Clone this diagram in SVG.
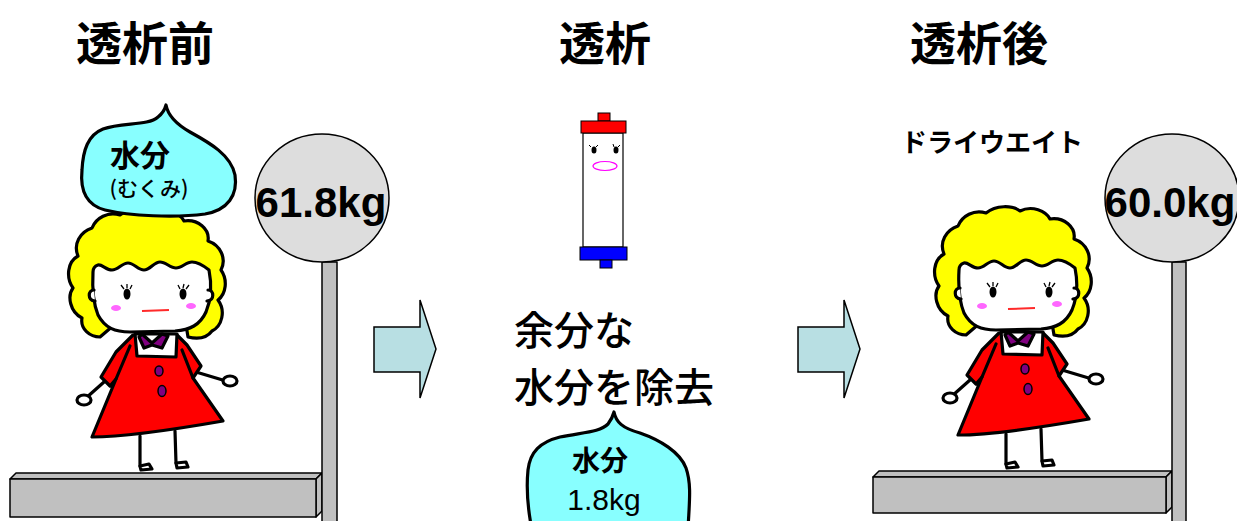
<svg xmlns="http://www.w3.org/2000/svg" xmlns:xlink="http://www.w3.org/1999/xlink" width="1237" height="521" viewBox="0 0 1237 521">
  <style>
    .title { font-family: "Noto Sans CJK JP", "Noto Sans", sans-serif; font-size: 46px; font-weight: 700; fill: #000; }
    .label { font-family: "Noto Sans CJK JP", "Noto Sans", sans-serif; fill: #000; }
    .num { font-family: "Liberation Sans", Arial, sans-serif; fill: #000; }
    .ink { stroke: #000; stroke-width: 3.2; stroke-linejoin: round; stroke-linecap: round; }
    .thin { stroke: #000; stroke-width: 1.5; stroke-linejoin: round; }
    .drop { fill: #88ffff; stroke: #000; stroke-width: 3.2; stroke-linejoin: round; }
    .metal { fill: #c0c0c0; stroke: #000; stroke-width: 1.5; stroke-linejoin: round; }
    .dial { fill: #dddddd; stroke: #000; stroke-width: 1.5; }
    .arrow { fill: #b8dfe3; stroke: #000; stroke-width: 1.5; stroke-linejoin: miter; }
  </style>
  <defs>
    <!-- girl standing on a scale; feet rest at y≈470 -->
    <g id="girl">
      <!-- arms -->
      <path class="ink" fill="none" d="M104,382 L86,398 M196,372 L226,381"/>
      <ellipse class="ink" fill="#fff" cx="84" cy="400" rx="7" ry="5"/>
      <ellipse class="ink" fill="#fff" cx="230" cy="381" rx="7" ry="5"/>
      <!-- legs and feet -->
      <path class="ink" fill="none" d="M140,436 L140,466 M175,431 L176,463"/>
      <path class="ink" fill="#fff" d="M140,466 L149,464 L152,469 L141,470 Z"/>
      <path class="ink" fill="#fff" d="M176,463 L186,462 L188,467 L177,468 Z"/>
      <!-- hair -->
      <path class="ink" fill="#ffff00" d="M100,337 C90,337 80,329 82,318 C70,312 67,296 73,288 C66,278 67,262 78,256 C73,244 80,232 92,228 C96,218 108,211 120,215 C130,207 146,207 154,213 C166,207 180,213 184,221 C198,219 210,229 208,241 C220,245 227,258 221,270 C228,280 226,294 218,300 C226,311 222,326 212,331 C206,339 196,339 188,337 L186,325 L114,325 Z"/>
      <!-- face -->
      <path class="ink" fill="#fff" d="M93,272 C92,290 94,305 98,315 C105,328 115,332 130,332 L175,331 C190,330 200,325 206,312 C211,300 212,285 209,270 C204,266 198,262 192,262 C186,262 182,268 176,268 C170,268 166,262 160,262 C154,262 150,270 144,270 C138,270 134,263 128,263 C122,263 118,270 112,270 C106,270 102,264 98,265 C95,266 93,268 93,272 Z"/>
      <path class="ink" fill="#fff" d="M94,290 C88,290 87,300 95,301 M208,290 C214,290 215,300 207,301"/>
      <!-- eyes, cheeks, mouth -->
      <ellipse cx="127" cy="294" rx="3.5" ry="5.5" fill="#000"/>
      <ellipse cx="183" cy="294" rx="3.5" ry="5.5" fill="#000"/>
      <path stroke="#000" stroke-width="1.3" fill="none" d="M124,289 L121,285 M127,288 L127,284 M130,289 L132,285 M180,289 L178,285 M183,288 L184,284 M186,289 L189,285"/>
      <ellipse cx="116" cy="308" rx="5" ry="3" fill="#ff66ff"/>
      <ellipse cx="191" cy="306" rx="5" ry="3" fill="#ff66ff"/>
      <path d="M142,311 L169,310" stroke="#ff2a2a" stroke-width="2" fill="none"/>
      <!-- dress -->
      <path class="ink" fill="#ff0000" d="M133,335 L116,352 L101,377 L110,386 L116,379 L92,437 C120,437 160,432 223,421 L193,378 L201,366 L187,345 L177,335 Z"/>
      <path class="ink" fill="none" d="M130,346 L116,379 M182,350 L193,378"/>
      <!-- collar and bow -->
      <path class="ink" fill="#fff" d="M135,334 L137,356 L176,357 L177,334 Z"/>
      <path class="ink" fill="#800080" d="M142,334 L152,343 L162,334 L168,336 L162,348 L152,345 L144,348 L139,337 Z"/>
      <!-- buttons -->
      <ellipse class="thin" fill="#800080" cx="159" cy="371" rx="4" ry="5"/>
      <ellipse class="thin" fill="#800080" cx="162" cy="391" rx="4" ry="5.5"/>
    </g>
  </defs>

  <!-- headings -->
  <text class="title" x="76" y="60">透析前</text>
  <text class="title" x="605" y="60" text-anchor="middle">透析</text>
  <text class="title" x="979" y="60" text-anchor="middle">透析後</text>

  <!-- before: scale and girl -->
  <g id="scale-before">
    <path class="metal" d="M10,479 L16,473 L322,473 L316,479 Z"/>
    <path class="metal" d="M316,479 L322,473 L322,511 L316,517 Z"/>
    <rect class="metal" x="10" y="479" width="306" height="38"/>
    <rect class="metal" x="322" y="262" width="15" height="262"/>
    <ellipse class="dial" cx="322" cy="198" rx="67" ry="64"/>
    <text class="num" x="321" y="217" font-size="42" font-weight="bold" text-anchor="middle">61.8kg</text>
  </g>
  <g id="girl-before">
    <use xlink:href="#girl"/>
  </g>
  <g id="water-before">
    <path class="drop" d="M166,105 C168,116 176,124 190,132 C210,143 231,155 235,175 C238,195 228,210 205,214 C175,218 130,216 105,210 C86,205 80,190 82,170 C83,150 88,135 103,129 C122,122 148,126 158,117 C163,113 165,109 166,105 Z"/>
    <text class="label" x="140" y="166" font-size="30" font-weight="bold" text-anchor="middle">水分</text>
    <text class="label" x="149" y="196" font-size="21" font-weight="500" text-anchor="middle">(むくみ)</text>
  </g>

  <!-- connectors between stages -->
  <g id="arrows">
    <path class="arrow" d="M374,327 L420,327 L420,300 L436,349 L420,398 L420,372 L374,372 Z"/>
    <path class="arrow" d="M798,327 L844,327 L844,300 L860,349 L844,398 L844,372 L798,372 Z"/>
  </g>

  <!-- dialyzer -->
  <g id="dialyzer">
    <rect x="583" y="133" width="40" height="114" fill="#fff" stroke="#000" stroke-width="1.2"/>
    <rect x="598" y="113" width="12" height="8" fill="#ff0000" stroke="#000" stroke-width="1"/>
    <rect x="581" y="121" width="45" height="12" fill="#ff0000" stroke="#000" stroke-width="1"/>
    <rect x="580" y="247" width="47" height="13" fill="#0000ff" stroke="#000" stroke-width="1"/>
    <rect x="600" y="260" width="12" height="8" fill="#0000ff" stroke="#000" stroke-width="1"/>
    <ellipse cx="594" cy="150" rx="2.5" ry="3.5" fill="#000"/>
    <ellipse cx="616" cy="150" rx="2.5" ry="3.5" fill="#000"/>
    <path stroke="#000" stroke-width="1" fill="none" d="M591,147 L589,145 M596,147 L598,145 M614,147 L613,144 M618,147 L620,145"/>
    <ellipse cx="605" cy="166" rx="12" ry="4.5" fill="none" stroke="#ff00ff" stroke-width="1.2"/>
  </g>

  <g id="removal-text">
    <text class="label" x="514" y="345" font-size="40" font-weight="500">余分な</text>
    <text class="label" x="514" y="402" font-size="40" font-weight="500">水分を除去</text>
  </g>

  <g id="water-removed">
    <path class="drop" d="M614,412 C616,422 622,428 640,433 C660,440 680,452 686,468 C692,485 689,505 688,530 L532,530 C528,510 526,490 528,470 C530,452 540,442 560,437 C585,432 600,432 608,424 C611,420 613,416 614,412 Z"/>
    <text class="label" x="600" y="471" font-size="28" font-weight="bold" text-anchor="middle">水分</text>
    <text class="num" x="604" y="510" font-size="30" text-anchor="middle">1.8kg</text>
  </g>

  <!-- after: scale and girl -->
  <g id="scale-after">
    <path class="metal" d="M873,477 L879,471 L1172,471 L1166,477 Z"/>
    <path class="metal" d="M1166,477 L1172,471 L1172,507 L1166,513 Z"/>
    <rect class="metal" x="873" y="477" width="293" height="36"/>
    <rect class="metal" x="1172" y="262" width="14" height="262"/>
    <ellipse class="dial" cx="1172" cy="198" rx="67" ry="64"/>
    <text class="num" x="1170" y="217" font-size="42" font-weight="bold" text-anchor="middle">60.0kg</text>
  </g>
  <g id="girl-after">
    <use xlink:href="#girl" transform="translate(866,-2)"/>
  </g>
  <text class="label" x="901" y="152" font-size="26" font-weight="bold">ドライウエイト</text>
</svg>
